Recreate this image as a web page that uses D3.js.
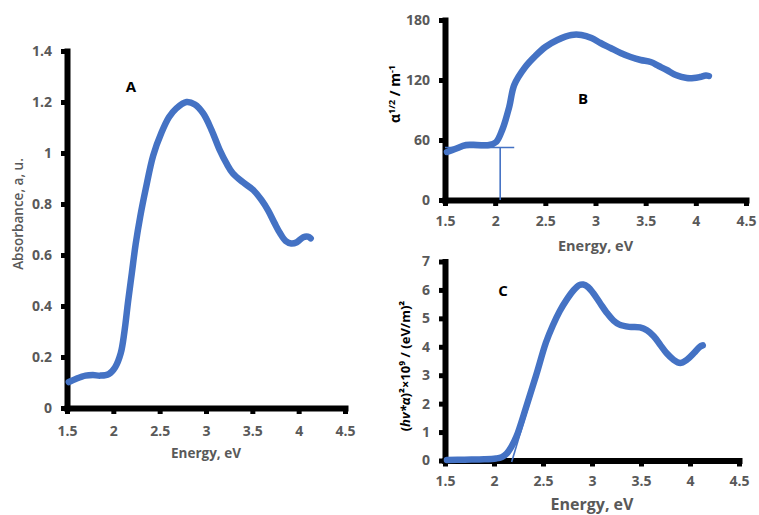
<!DOCTYPE html>
<html>
<head>
<meta charset="utf-8">
<script src="https://cdn.jsdelivr.net/npm/d3@7"></script>
<style>
  body { margin: 0; background: #fff; }
  svg text { font-family: "Open Sans", sans-serif; }
  .axis path, .axis line { stroke: #000; }
  .axis text { fill: #595959; font-size: 14px; font-weight: 700; }
</style>
</head>
<body>
<div id="chart"></div>
<script>
const width = 759;
const height = 515;

// ---------------- DATA ----------------
const xTicks = [1.5, 2, 2.5, 3, 3.5, 4, 4.5];

// A: absorbance
const energyA = [1.52, 1.6, 1.7, 1.78, 1.86, 1.95, 2.02, 2.08, 2.12, 2.16, 2.2, 2.24, 2.29, 2.35, 2.43, 2.52, 2.6, 2.68, 2.79, 2.88, 2.97, 3.06, 3.15, 3.22, 3.29, 3.4, 3.51, 3.6, 3.67, 3.74, 3.8, 3.86, 3.92, 3.98, 4.05, 4.1, 4.13];
const absA    = [0.102, 0.115, 0.127, 0.129, 0.127, 0.133, 0.16, 0.215, 0.3, 0.42, 0.53, 0.64, 0.75, 0.86, 0.99, 1.08, 1.14, 1.175, 1.2, 1.19, 1.155, 1.09, 1.01, 0.96, 0.92, 0.885, 0.855, 0.815, 0.775, 0.725, 0.685, 0.655, 0.645, 0.65, 0.67, 0.672, 0.665];
const ticksA  = [0, 0.2, 0.4, 0.6, 0.8, 1, 1.2, 1.4];

// B: alpha^(1/2)
const energyB = [1.52, 1.6, 1.71, 1.82, 1.94, 2.01, 2.07, 2.14, 2.19, 2.3, 2.4, 2.5, 2.62, 2.76, 2.86, 2.96, 3.05, 3.15, 3.25, 3.35, 3.45, 3.55, 3.63, 3.71, 3.8, 3.91, 3.98, 4.04, 4.1, 4.13];
const alphaB  = [48, 51, 55, 55, 55, 58, 70, 93, 115, 133, 144, 153, 160, 165, 165, 162, 157, 152, 147, 143, 140, 138, 134, 130, 125, 122, 122, 123, 124.5, 124];
const ticksB  = [0, 60, 120, 180];
const tangentBh = [[1.5, 52.5], [2.19, 52.5]];
const tangentBv = [[2.05, 52.5], [2.05, 0]];

// C: (h nu * alpha)^2
const energyC = [1.52, 1.7, 1.9, 2.02, 2.08, 2.13, 2.18, 2.23, 2.33, 2.43, 2.53, 2.6, 2.67, 2.74, 2.81, 2.87, 2.91, 2.96, 3.01, 3.08, 3.15, 3.22, 3.28, 3.38, 3.49, 3.56, 3.63, 3.7, 3.76, 3.83, 3.9, 3.97, 4.04, 4.1, 4.13];
const hvC     = [0.02, 0.03, 0.04, 0.07, 0.12, 0.25, 0.5, 0.85, 1.9, 3.0, 4.15, 4.75, 5.25, 5.65, 5.98, 6.17, 6.19, 6.1, 5.9, 5.55, 5.2, 4.92, 4.78, 4.7, 4.68, 4.58, 4.37, 4.05, 3.78, 3.55, 3.43, 3.55, 3.78, 4.0, 4.05];
const ticksC  = [0, 1, 2, 3, 4, 5, 6, 7];
const tangentC = [[2.18, -0.05], [2.58, 4.55]];

// ---------------- SVG ----------------
const svg = d3.select("#chart").append("svg")
    .attr("width", width)
    .attr("height", height);

const blue = "#4472c4";

function drawPanel(p) {
    const x = d3.scaleLinear().domain([1.5, 4.5]).range([p.left, p.right]);
    const y = d3.scaleLinear().domain(p.yDomain).range([p.bottom, p.top]);

    const xaxis = d3.axisBottom(x)
        .tickValues(xTicks)
        .tickFormat(d3.format("~g"))
        .tickSize(6)
        .tickSizeOuter(0)
        .tickPadding(p.xPad - 2);
    const yaxis = d3.axisLeft(y)
        .tickValues(p.yTicks)
        .tickFormat(d3.format("~g"))
        .tickSize(6)
        .tickSizeOuter(0)
        .tickPadding(9);

    const gx = svg.append("g")
        .attr("class", "axis")
        .attr("transform", "translate(0," + p.bottom + ")")
        .call(xaxis);
    const gy = svg.append("g")
        .attr("class", "axis")
        .attr("transform", "translate(" + p.left + ",0)")
        .call(yaxis);
    [gx, gy].forEach(g => {
        g.attr("stroke-width", 6);
        g.select(".domain").attr("stroke-width", 6).attr("stroke-linecap", "square");
        g.selectAll(".tick line").attr("stroke-width", 5);
    });

    // tangent lines
    (p.tangents || []).forEach(t => {
        svg.append("path")
            .datum(t)
            .attr("fill", "none")
            .attr("stroke", blue)
            .attr("stroke-width", 1.6)
            .attr("d", d3.line().x(d => x(d[0])).y(d => y(d[1])));
    });

    const line = d3.line()
        .curve(d3.curveCatmullRom)
        .x(d => x(d[0]))
        .y(d => y(d[1]));

    svg.append("path")
        .datum(d3.zip(p.xs, p.ys))
        .attr("fill", "none")
        .attr("stroke", blue)
        .attr("stroke-width", 6.5)
        .attr("stroke-linecap", "round")
        .attr("stroke-linejoin", "round")
        .attr("d", line);

    // x label
    svg.append("text")
        .attr("x", (p.left + p.right) / 2)
        .attr("y", p.xLabelY)
        .attr("text-anchor", "middle")
        .attr("fill", "#595959")
        .style("font-size", p.xLabelSize + "px")
        .style("font-weight", 700)
        .text("Energy, eV");

    // panel letter
    svg.append("text")
        .attr("x", p.letter[1])
        .attr("y", p.letter[2])
        .attr("text-anchor", "middle")
        .attr("fill", "#000")
        .style("font-size", "15px")
        .style("font-weight", 700)
        .text(p.letter[0]);

    return { x, y };
}

drawPanel({
    left: 67, right: 345, top: 51, bottom: 408,
    yDomain: [0, 1.4], yTicks: ticksA, xPad: 14,
    xs: energyA, ys: absA,
    xLabelY: 458, xLabelSize: 13.5,
    letter: ["A", 131, 92]
});

drawPanel({
    left: 445, right: 746, top: 20, bottom: 200,
    yDomain: [0, 180], yTicks: ticksB, xPad: 12,
    xs: energyB, ys: alphaB,
    tangents: [tangentBh, tangentBv],
    xLabelY: 251, xLabelSize: 14.5,
    letter: ["B", 583, 104]
});

drawPanel({
    left: 445, right: 739, top: 261.5, bottom: 460.5,
    yDomain: [0, 7], yTicks: ticksC, xPad: 12,
    xs: energyC, ys: hvC,
    tangents: [tangentC],
    xLabelY: 510, xLabelSize: 16,
    letter: ["C", 503, 296]
});

// y-axis titles
svg.append("text")
    .attr("transform", "translate(23,214) rotate(-90)")
    .attr("text-anchor", "middle")
    .attr("fill", "#595959")
    .style("font-size", "13.5px")
    .style("font-weight", 600)
    .text("Absorbance, a, u.");

const tB = svg.append("text")
    .attr("transform", "translate(400,94) rotate(-90)")
    .attr("text-anchor", "middle")
    .attr("fill", "#000")
    .style("font-size", "14px")
    .style("font-weight", 700);
tB.append("tspan").text("α");
tB.append("tspan").attr("dy", -5).style("font-size", "9px").text("1/2");
tB.append("tspan").attr("dy", 5).text(" / m");
tB.append("tspan").attr("dy", -5).style("font-size", "9px").text("-1");

const tC = svg.append("text")
    .attr("transform", "translate(410,366) rotate(-90)")
    .attr("text-anchor", "middle")
    .attr("fill", "#000")
    .style("font-size", "13px")
    .style("font-weight", 700);
tC.append("tspan").text("(");
tC.append("tspan").style("font-style", "italic").text("hv*α");
tC.append("tspan").text(")²×10⁹ / (eV/m)²");
</script>
</body>
</html>
